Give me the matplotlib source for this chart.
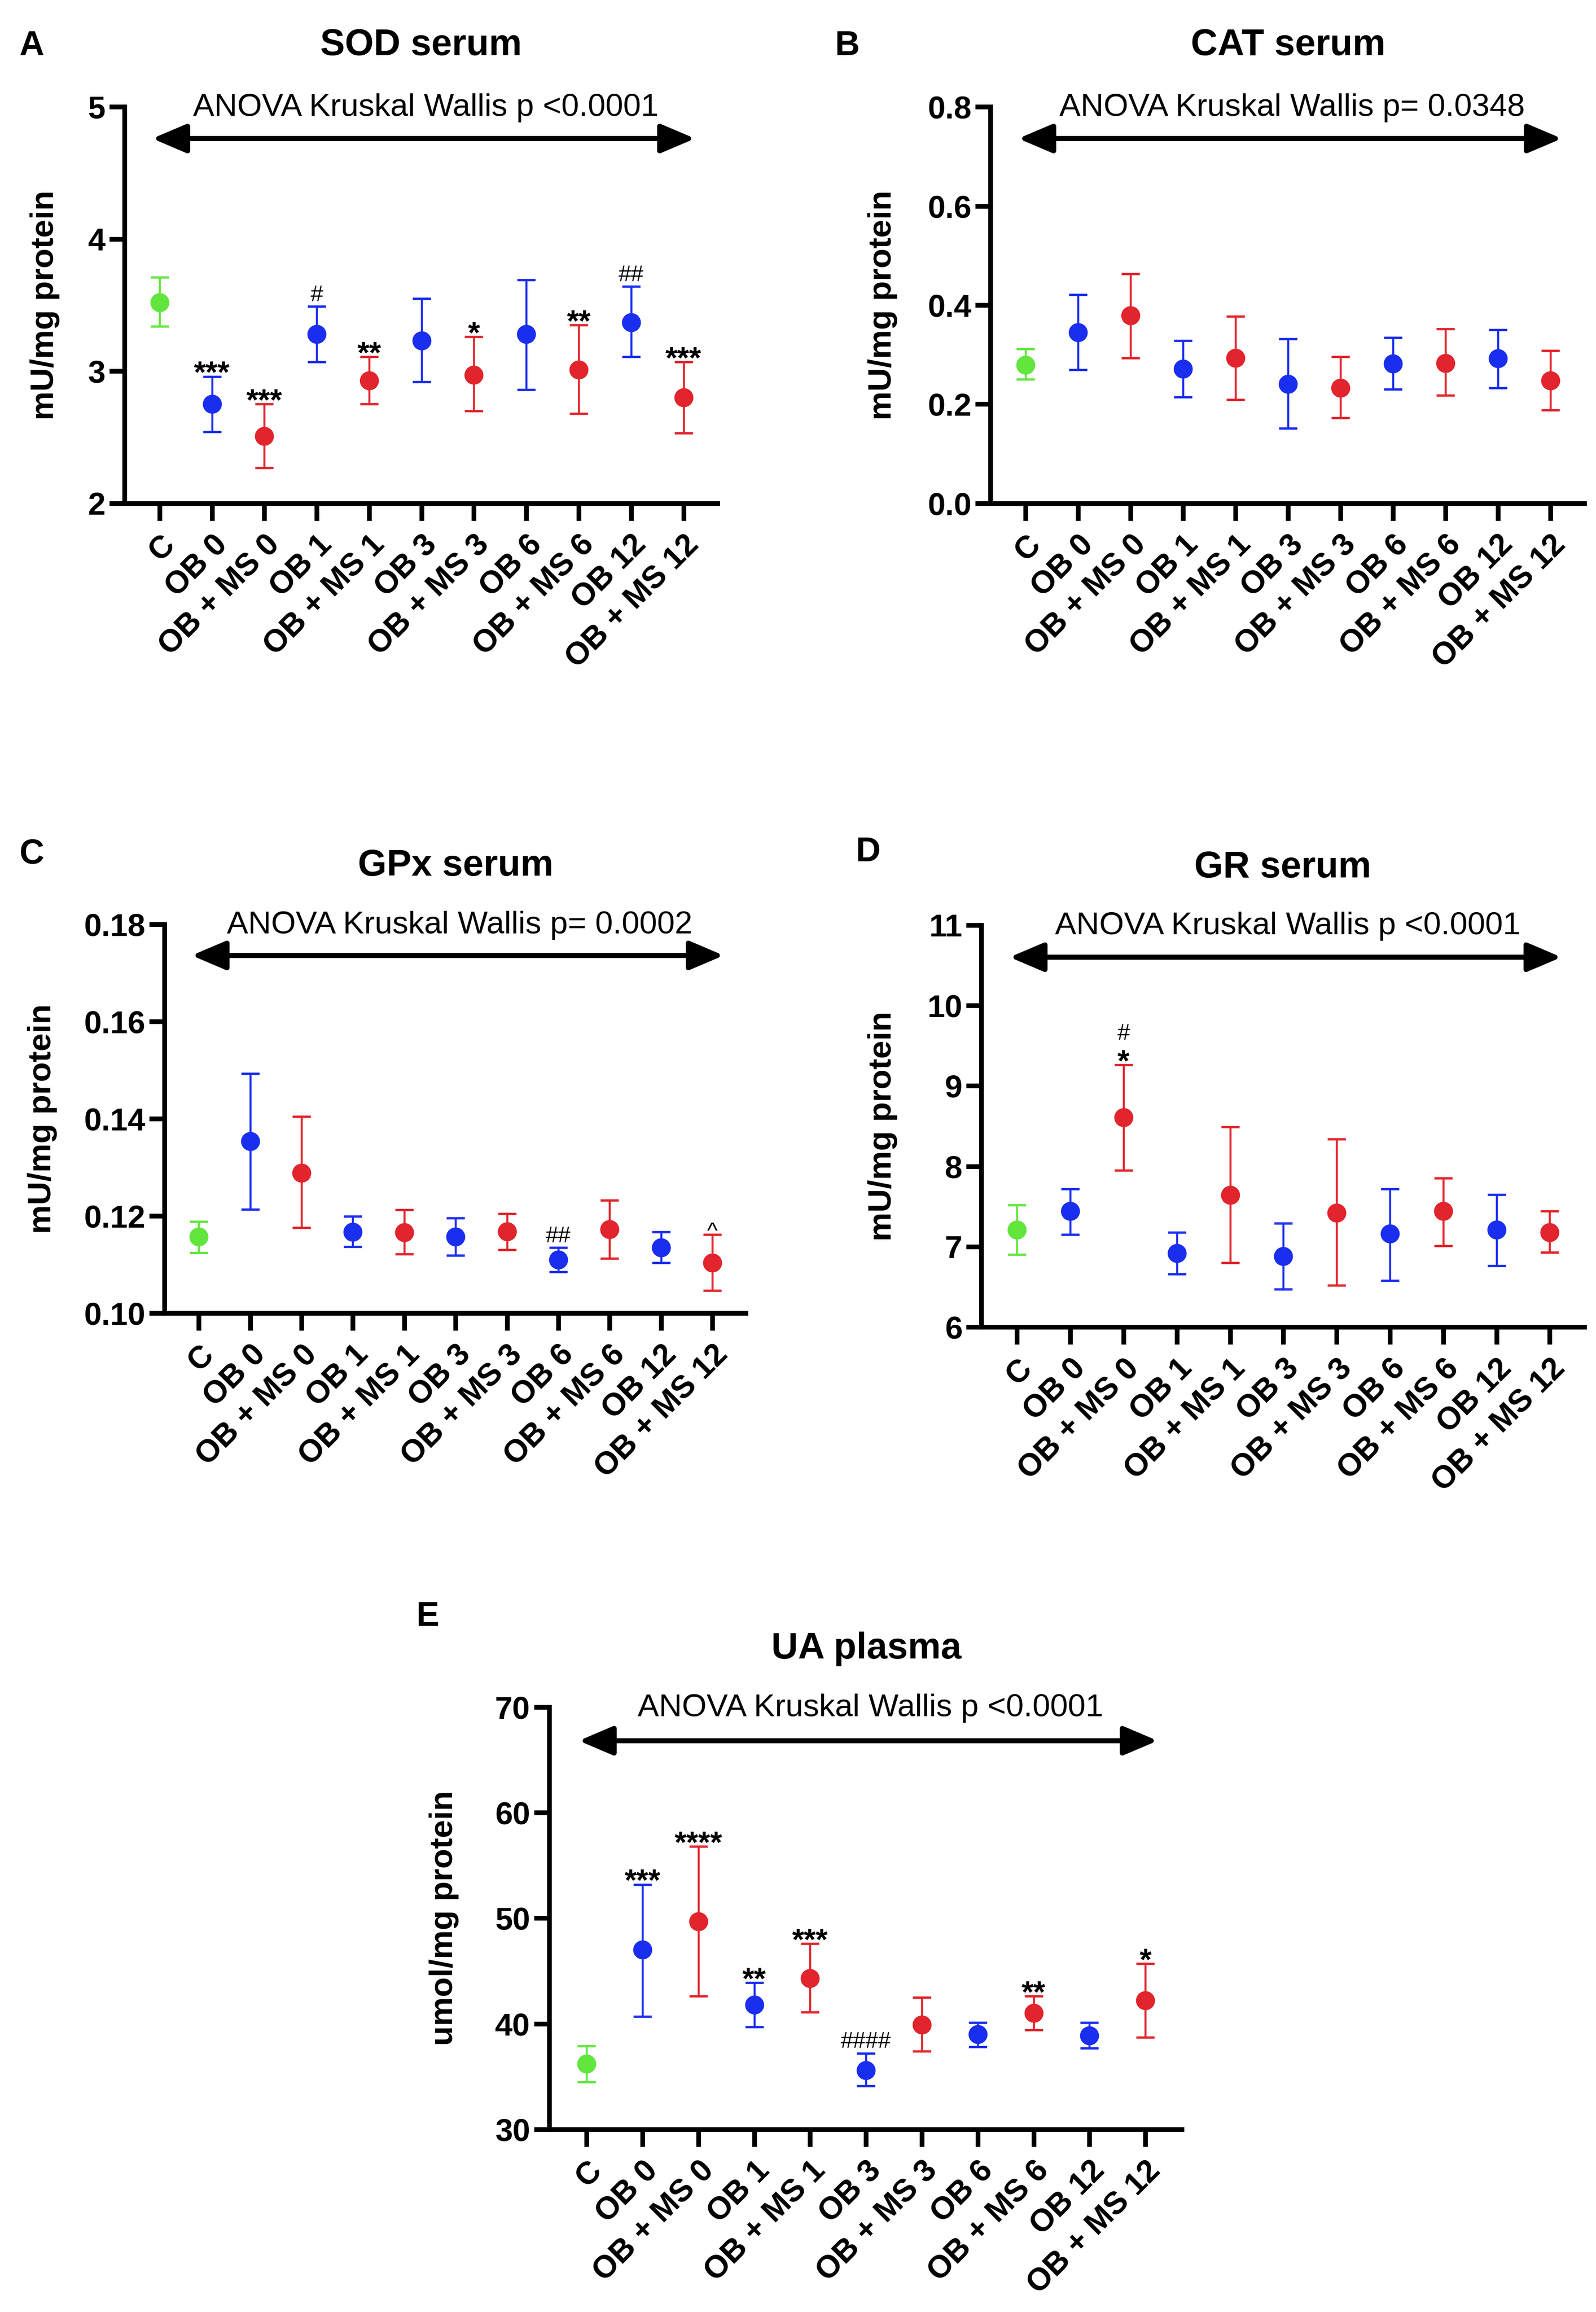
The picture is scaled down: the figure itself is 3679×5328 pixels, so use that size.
import matplotlib
matplotlib.use("Agg")
import matplotlib.pyplot as plt
from matplotlib.ticker import FormatStrFormatter, MultipleLocator
from matplotlib.patches import ArrowStyle
import matplotlib.transforms as mtransforms

plt.rcParams['font.family'] = ['Liberation Sans', 'DejaVu Sans']

#*******************************************************************************
# Data
#*******************************************************************************
groups = ["C", "OB 0", "OB + MS 0", "OB 1", "OB + MS 1", "OB 3", "OB + MS 3",
          "OB 6", "OB + MS 6", "OB 12", "OB + MS 12"]

# SOD serum
sod_mean = [3.52, 2.75, 2.51, 3.28, 2.93, 3.23, 2.97, 3.28, 3.01, 3.37, 2.80]
sod_hi   = [3.71, 2.96, 2.75, 3.49, 3.11, 3.55, 3.26, 3.69, 3.35, 3.64, 3.07]
sod_lo   = [3.34, 2.54, 2.27, 3.07, 2.75, 2.92, 2.70, 2.86, 2.68, 3.11, 2.53]
sod_stars  = ["", "***", "***", "", "**", "", "*", "", "**", "", "***"]
sod_hashes = ["", "", "", "#", "", "", "", "", "", "##", ""]

# CAT serum
cat_mean = [0.279, 0.345, 0.379, 0.271, 0.293, 0.241, 0.233, 0.282, 0.283, 0.292, 0.248]
cat_hi   = [0.312, 0.421, 0.463, 0.328, 0.377, 0.332, 0.296, 0.334, 0.352, 0.350, 0.308]
cat_lo   = [0.250, 0.270, 0.293, 0.214, 0.209, 0.151, 0.172, 0.230, 0.218, 0.233, 0.188]
cat_stars  = [""] * 11
cat_hashes = [""] * 11

# GPx serum
gpx_mean = [0.1157, 0.1354, 0.1289, 0.1167, 0.1166, 0.1157, 0.1168, 0.1110, 0.1173, 0.1135, 0.1104]
gpx_hi   = [0.1189, 0.1493, 0.1405, 0.1199, 0.1213, 0.1196, 0.1205, 0.1135, 0.1232, 0.1167, 0.1162]
gpx_lo   = [0.1124, 0.1214, 0.1176, 0.1137, 0.1122, 0.1119, 0.1131, 0.1085, 0.1113, 0.1104, 0.1047]
gpx_stars  = [""] * 11
gpx_hashes = ["", "", "", "", "", "", "", "##", "", "", "^"]

# GR serum
gr_mean = [7.21, 7.44, 8.61, 6.92, 7.64, 6.88, 7.42, 7.16, 7.44, 7.21, 7.18]
gr_hi   = [7.52, 7.72, 9.26, 7.18, 8.49, 7.29, 8.34, 7.72, 7.85, 7.65, 7.44]
gr_lo   = [6.90, 7.15, 7.95, 6.66, 6.80, 6.47, 6.52, 6.58, 7.01, 6.76, 6.93]
gr_stars  = ["", "", "*", "", "", "", "", "", "", "", ""]
gr_hashes = ["", "", "#", "", "", "", "", "", "", "", ""]

# UA plasma
ua_mean = [36.2, 47.0, 49.7, 41.8, 44.3, 35.6, 39.9, 39.0, 41.0, 38.9, 42.2]
ua_hi   = [37.9, 53.2, 56.8, 43.9, 47.6, 37.2, 42.5, 40.1, 42.6, 40.1, 45.7]
ua_lo   = [34.5, 40.7, 42.6, 39.7, 41.1, 34.1, 37.4, 37.8, 39.4, 37.7, 38.7]
ua_stars  = ["", "***", "****", "**", "***", "", "", "", "**", "", "*"]
ua_hashes = ["", "", "", "", "", "####", "", "", "", "", ""]

GREEN = "#62e63e"
BLUE  = "#1a2ef0"
RED   = "#e2242c"
colors = [GREEN] + [BLUE, RED] * 5

#*******************************************************************************
# Panel layout (figure fractions)
#*******************************************************************************
panels = [
    dict(letter="A", title="SOD serum", ylabel="mU/mg protein",
         mean=sod_mean, hi=sod_hi, lo=sod_lo, stars=sod_stars, hashes=sod_hashes,
         ylim=(2, 5), step=1, fmt='%d', anova="ANOVA Kruskal Wallis p <0.0001",
         rect=[0.078, 0.7823, 0.3716, 0.1715], title_xy=(0.2638, 0.9802),
         letter_xy=(0.0198, 0.9800), ylabel_x=0.0376),
    dict(letter="B", title="CAT serum", ylabel="mU/mg protein",
         mean=cat_mean, hi=cat_hi, lo=cat_lo, stars=cat_stars, hashes=cat_hashes,
         ylim=(0, 0.8), step=0.2, fmt='%.1f', anova="ANOVA Kruskal Wallis p= 0.0348",
         rect=[0.6206, 0.7823, 0.3721, 0.1715], title_xy=(0.807, 0.9802),
         letter_xy=(0.531, 0.9800), ylabel_x=0.5624),
    dict(letter="C", title="GPx serum", ylabel="mU/mg protein",
         mean=gpx_mean, hi=gpx_hi, lo=gpx_lo, stars=gpx_stars, hashes=gpx_hashes,
         ylim=(0.10, 0.18), step=0.02, fmt='%.2f', anova="ANOVA Kruskal Wallis p= 0.0002",
         rect=[0.103, 0.432, 0.3643, 0.1682], title_xy=(0.2855, 0.6254),
         letter_xy=(0.0198, 0.6304), ylabel_x=0.036),
    dict(letter="D", title="GR serum", ylabel="mU/mg protein",
         mean=gr_mean, hi=gr_hi, lo=gr_lo, stars=gr_stars, hashes=gr_hashes,
         ylim=(6, 11), step=1, fmt='%d', anova="ANOVA Kruskal Wallis p <0.0001",
         rect=[0.6149, 0.426, 0.3778, 0.1739], title_xy=(0.8037, 0.6246),
         letter_xy=(0.544, 0.6312), ylabel_x=0.5624),
    dict(letter="E", title="UA plasma", ylabel="umol/mg protein",
         mean=ua_mean, hi=ua_hi, lo=ua_lo, stars=ua_stars, hashes=ua_hashes,
         ylim=(30, 70), step=10, fmt='%d', anova="ANOVA Kruskal Wallis p <0.0001",
         rect=[0.3441, 0.079, 0.3963, 0.1827], title_xy=(0.5427, 0.2868),
         letter_xy=(0.268, 0.3005), ylabel_x=0.2875),
]

#*******************************************************************************
# Drawing
#*******************************************************************************
fig = plt.figure(figsize=(3679 / 300, 5328 / 300), dpi=300)

LW = 2.6
x = list(range(len(groups)))

for p in panels:
    ax = fig.add_axes(p["rect"])

    for i in x:
        m = p["mean"][i]
        ax.errorbar(i, m, yerr=[[m - p["lo"][i]], [p["hi"][i] - m]],
                    fmt='o', color=colors[i], markersize=9.5, elinewidth=1.1,
                    capsize=5.0, capthick=1.3, zorder=3)

    # significance marks
    for i in x:
        top = p["hi"][i]
        if p["stars"][i]:
            ax.annotate(p["stars"][i], xy=(i, top), xytext=(0, -3.5),
                        textcoords='offset points', ha='center', va='baseline',
                        fontsize=17, fontweight='bold')
        if p["hashes"][i]:
            s = p["hashes"][i]
            off = 14 if p["stars"][i] else 3
            if s == "^":
                off = -2
            ax.annotate(s, xy=(i, top), xytext=(0, off),
                        textcoords='offset points', ha='center', va='baseline',
                        fontsize=12.5)

    # ANOVA arrow and text
    trans = mtransforms.blended_transform_factory(ax.transData, ax.transAxes)
    ax.annotate("", xy=(10.22, 0.92), xytext=(-0.14, 0.92),
                xycoords=trans, textcoords=trans,
                arrowprops=dict(arrowstyle=ArrowStyle('<|-|>', head_length=0.4, head_width=0.17),
                                mutation_scale=40, lw=2.8, color='black',
                                shrinkA=0, shrinkB=0))
    ax.text(5.08, 0.997, p["anova"], transform=trans, ha='center', va='center',
            fontsize=17.6, clip_on=False)

    ax.set_xlim(-0.67, 10.65)
    ax.set_ylim(*p["ylim"])
    ax.yaxis.set_major_locator(MultipleLocator(p["step"]))
    ax.yaxis.set_major_formatter(FormatStrFormatter(p["fmt"]))
    ax.set_xticks(x)
    ax.set_xticklabels(groups, rotation=45, ha='right', rotation_mode='anchor')

    for side in ['top', 'right']:
        ax.spines[side].set_visible(False)
    for side in ['left', 'bottom']:
        ax.spines[side].set_linewidth(LW)

    ax.tick_params(axis='y', length=8.5, width=LW, labelsize=17.5, pad=2)
    ax.tick_params(axis='x', length=9.5, width=LW, labelsize=17.4, pad=5)
    for lab in ax.get_xticklabels() + ax.get_yticklabels():
        lab.set_fontweight('bold')

    ax.set_ylabel(p["ylabel"], fontsize=18, fontweight='bold')
    left, bottom, width, height = p["rect"]
    ax.yaxis.set_label_coords((p["ylabel_x"] - left) / width, 0.5)

    fig.text(p["title_xy"][0], p["title_xy"][1], p["title"], ha='center', va='center',
             fontsize=20.5, fontweight='bold')
    fig.text(p["letter_xy"][0], p["letter_xy"][1], p["letter"], ha='center', va='center',
             fontsize=19, fontweight='bold')

fig.savefig("out.png", dpi=300)
